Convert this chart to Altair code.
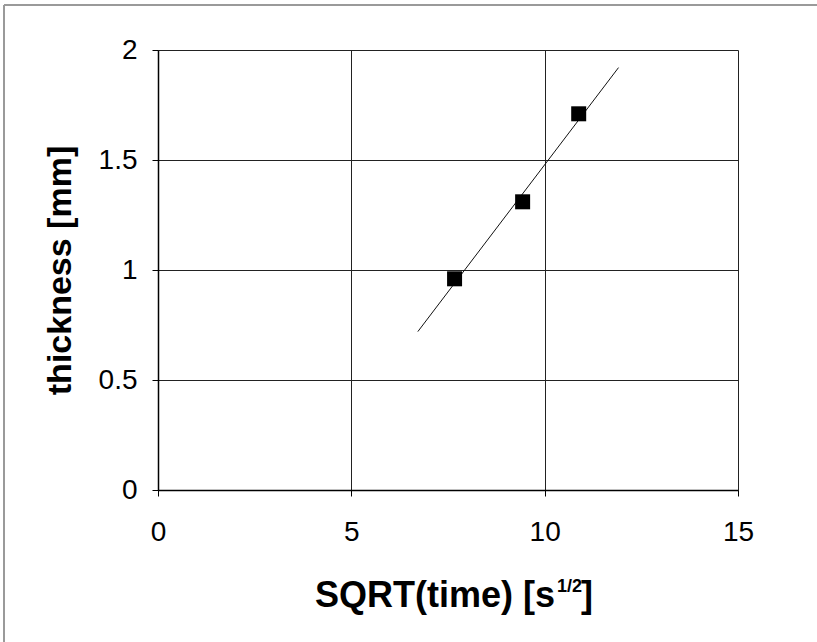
import altair as alt
import pandas as pd

# data
sqrt_time = [7.67, 9.43, 10.88]
thickness = [0.96, 1.31, 1.71]
trend_x = [6.72, 11.91]
trend_y = [0.72, 1.92]

x_ticks = [0, 5, 10, 15]
y_ticks = [0, 0.5, 1, 1.5, 2]

pts = pd.DataFrame({"x": sqrt_time, "y": thickness})
trend = pd.DataFrame({"x": trend_x, "y": trend_y})

FONT = "Liberation Sans"

xscale = alt.Scale(domain=[0, 15], nice=False, zero=False)
yscale = alt.Scale(domain=[0, 2], nice=False, zero=False)

xenc = alt.X(
    "x:Q",
    scale=xscale,
    axis=alt.Axis(
        title=None,
        values=x_ticks,
        format="~g",
        grid=True,
        gridColor="#222222",
        gridWidth=1,
        gridOpacity=1,
        domainColor="#000000",
        domainWidth=1.5,
        tickColor="#000000",
        tickSize=6,
        tickWidth=1,
        labelFont=FONT,
        labelFontSize=28,
        labelColor="#000000",
        labelPadding=22,
        labelFlush=False,
        labelOverlap=False,
    ),
)
yenc = alt.Y(
    "y:Q",
    scale=yscale,
    axis=alt.Axis(
        title="thickness [mm]",
        values=y_ticks,
        format="~g",
        grid=True,
        gridColor="#222222",
        gridWidth=1,
        gridOpacity=1,
        domainColor="#000000",
        domainWidth=1.5,
        tickColor="#000000",
        tickSize=6,
        tickWidth=1,
        labelFont=FONT,
        labelFontSize=28,
        labelColor="#000000",
        labelPadding=15,
        labelFlush=False,
        labelOverlap=False,
        titleFont=FONT,
        titleFontSize=34,
        titleFontWeight="bold",
        titleColor="#000000",
        titleX=-88,
        titleY=220,
        titleAngle=270,
        titleAlign="center",
        titleBaseline="alphabetic",
    ),
)

line = alt.Chart(trend).mark_line(color="#111111", strokeWidth=1).encode(x=xenc, y=yenc)
points = alt.Chart(pts).mark_square(size=225, color="#000000", opacity=1).encode(
    x=alt.X("x:Q", scale=xscale), y=alt.Y("y:Q", scale=yscale)
)

one = alt.Data(values=[{}])
t_main = alt.Chart(one).mark_text(
    font=FONT, fontSize=36, fontWeight="bold", align="right", baseline="alphabetic", color="#000000"
).encode(x=alt.value(397), y=alt.value(557), text=alt.value("SQRT(time) [s"))
t_sup = alt.Chart(one).mark_text(
    font=FONT, fontSize=18, fontWeight="bold", align="left", baseline="alphabetic", color="#000000"
).encode(x=alt.value(399), y=alt.value(542), text=alt.value("1/2"))
t_end = alt.Chart(one).mark_text(
    font=FONT, fontSize=36, fontWeight="bold", align="left", baseline="alphabetic", color="#000000"
).encode(x=alt.value(423), y=alt.value(557), text=alt.value("]"))

border_top = alt.Chart(one).mark_rule(color="#9a9a9a", strokeWidth=2).encode(
    x=alt.value(-154), x2=alt.value(659), y=alt.value(-45)
)
border_left = alt.Chart(one).mark_rule(color="#9a9a9a", strokeWidth=2).encode(
    x=alt.value(-154), y=alt.value(-45), y2=alt.value(592)
)

chart = (
    alt.layer(border_top, border_left, line, points, t_main, t_sup, t_end)
    .properties(
        width=580,
        height=440,
        autosize=alt.AutoSizeParams(type="none"),
        padding={"left": 158, "top": 50, "right": 79, "bottom": 152},
        background="#ffffff",
    )
    .configure_view(stroke=None)
)

chart.save("out.html", embed_options={"renderer": "svg", "actions": False})
